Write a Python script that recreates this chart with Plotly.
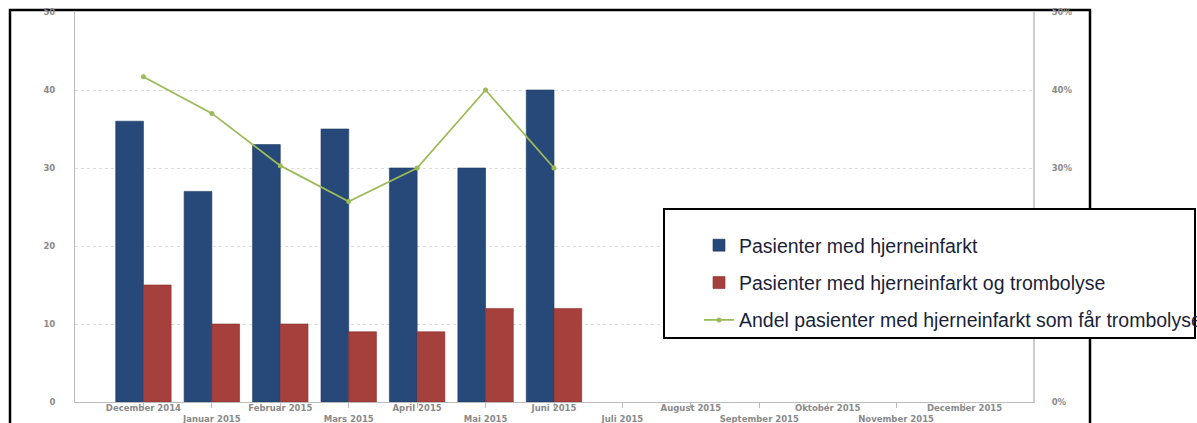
import plotly.graph_objects as go

months = ["December 2014", "Januar 2015", "Februar 2015", "Mars 2015", "April 2015",
          "Mai 2015", "Juni 2015", "Juli 2015", "August 2015", "September 2015",
          "Oktober 2015", "November 2015", "December 2015"]
pasienter = [36, 27, 33, 35, 30, 30, 40, None, None, None, None, None, None]
trombolyse = [15, 10, 10, 9, 9, 12, 12, None, None, None, None, None, None]
andel = [0.417, 0.370, 0.303, 0.257, 0.300, 0.400, 0.300, None, None, None, None, None, None]

y_ticks = [0, 10, 20, 30, 40, 50]
y2_ticks = [0, 0.1, 0.2, 0.3, 0.4, 0.5]
y2_labels = ["0%", "10%", "20%", "30%", "40%", "50%"]

ticktext = [m if i % 2 == 0 else "<br>" + m for i, m in enumerate(months)]

W, H = 1197, 423
L, R, T, B = 75, 1033, 12, 402


def px_x(p):
    return (p - L) / (R - L)


def px_y(p):
    return (B - p) / (B - T)


fig = go.Figure()
fig.add_trace(go.Bar(
    x=months, y=pasienter, name="Pasienter med hjerneinfarkt",
    marker=dict(color="#27497A", line=dict(color="#1B3560", width=0.6)),
    legendgroup="a",
))
fig.add_trace(go.Bar(
    x=months, y=trombolyse, name="Pasienter med hjerneinfarkt og trombolyse",
    marker=dict(color="#A5403C", line=dict(color="#8A2E2B", width=0.6)),
    legendgroup="b",
))
fig.add_trace(go.Scatter(
    x=months, y=andel, name="Andel pasienter med hjerneinfarkt som får trombolyse",
    mode="lines+markers", yaxis="y2",
    line=dict(color="#9BBB59", width=1.8),
    marker=dict(color="#9BBB59", size=5),
    legendgroup="c",
))

tickfont = dict(family="DejaVu Sans", size=8.5, color="#8a8a8a", weight="bold")

fig.update_layout(
    width=W, height=H,
    margin=dict(l=L, r=W - R, t=T, b=H - B, autoexpand=False),
    paper_bgcolor="white", plot_bgcolor="white",
    barmode="group", bargap=0.19, bargroupgap=0,
    xaxis=dict(
        type="category", categoryorder="array", categoryarray=months,
        range=[-1, 13],
        tickmode="array", tickvals=months, ticktext=ticktext, tickangle=0,
        ticks="outside", ticklen=5, tickcolor="#bbbbbb",
        showline=True, linecolor="#bbbbbb", linewidth=1,
        showgrid=False, tickfont=tickfont, ticklabelstandoff=-7,
    ),
    yaxis=dict(
        range=[0, 50], tickvals=y_ticks,
        showgrid=True, gridcolor="#dddddd", griddash="dot", gridwidth=1,
        showline=True, linecolor="#bbbbbb", linewidth=1,
        zeroline=False, tickfont=tickfont, ticks="", ticklabelstandoff=17,
    ),
    yaxis2=dict(
        overlaying="y", side="right", range=[0, 0.5],
        tickvals=y2_ticks, ticktext=y2_labels,
        showgrid=False, showline=True, linecolor="#cccccc", linewidth=2,
        zeroline=False, tickfont=tickfont, ticks="", ticklabelstandoff=15,
    ),
    showlegend=True,
    legend=dict(
        x=px_x(699), y=px_y(226), xanchor="left", yanchor="top",
        bgcolor="rgba(0,0,0,0)", borderwidth=0,
        font=dict(family="Liberation Sans", size=19.5, color="#1a1f3a"),
        traceorder="grouped", tracegroupgap=9,
    ),
    shapes=[
        # outer frame
        dict(type="rect", xref="paper", yref="paper",
             x0=px_x(10), x1=px_x(1090), y0=px_y(440), y1=px_y(10),
             line=dict(color="black", width=2.5), fillcolor="rgba(0,0,0,0)",
             layer="below"),
        # legend box
        dict(type="rect", xref="paper", yref="paper",
             x0=px_x(664), x1=px_x(1195), y0=px_y(338), y1=px_y(209),
             line=dict(color="black", width=2), fillcolor="white",
             layer="above"),
    ],
)

fig.write_html("out.html")
